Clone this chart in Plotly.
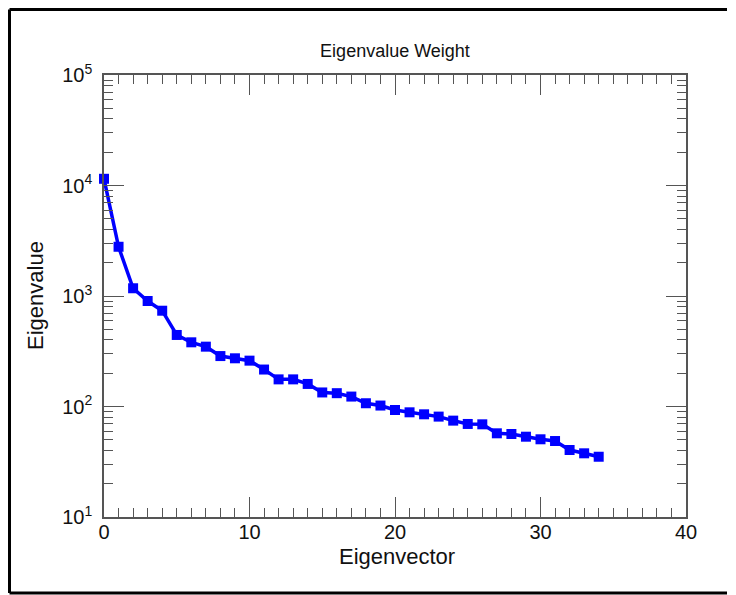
import plotly.graph_objects as go

eigenvector = list(range(35))
eigenvalue = [11500, 2790, 1175, 901, 736, 444, 381, 348, 286, 273,
              260, 216, 176, 176, 160, 134, 132, 123, 107, 102,
              93, 88.6, 85, 81, 74.5, 69.5, 69, 57.2, 56.4, 53.3,
              50.5, 48.7, 40.4, 37.7, 35.1]
y_tick_vals = [10, 100, 1000, 10000, 100000]
y_tick_text = ["10<sup>1</sup>", "10<sup>2</sup>", "10<sup>3</sup>", "10<sup>4</sup>", "10<sup>5</sup>"]
x_tick_vals = [0, 10, 20, 30, 40]

# page has an 8px body margin; figure coords = page coords - 8
OFF = 8
W, H = 719, 595 - OFF
L, R, T, B = 104 - OFF, 686 - OFF, 75 - OFF, 517 - OFF
pw, ph = R - L, B - T

def px(fx):
    return (fx - L) / pw

def py(fy):
    return (B - fy) / ph

fig = go.Figure()
fig.add_trace(go.Scatter(
    x=eigenvector, y=eigenvalue, mode="lines+markers",
    line=dict(color="#0000ff", width=3.5),
    marker=dict(symbol="square", size=10, color="#0000ff"),
    cliponaxis=False, showlegend=False))

font = "Liberation Sans, Arial, Helvetica, sans-serif"
axis_common = dict(
    showgrid=False, zeroline=False, showline=True, linecolor="#555555", linewidth=1.5,
    mirror="allticks", ticks="inside", ticklen=20, tickwidth=1.2, tickcolor="#555555",
    tickfont=dict(family=font, size=20, color="#111111"),
)

fig.update_layout(
    width=W, height=H,
    margin=dict(l=L, r=W - R, t=T, b=H - B, pad=0),
    paper_bgcolor="white", plot_bgcolor="white",
    title=dict(text="Eigenvalue Weight", x=(L + R) / 2 / W, xanchor="center",
               y=1 - (51 - OFF) / H, yanchor="middle",
               font=dict(family=font, size=18, color="#111111")),
    xaxis=dict(range=[0, 40], tickmode="array", tickvals=x_tick_vals,
               ticktext=[str(v) for v in x_tick_vals], ticklabelstandoff=-4,
               minor=dict(dtick=1, tick0=0, ticks="inside", ticklen=9, tickcolor="#555555", tickwidth=1.2),
               **axis_common),
    yaxis=dict(type="log", range=[1, 5], tickmode="array", tickvals=y_tick_vals,
               ticktext=y_tick_text, ticklabelstandoff=6,
               minor=dict(dtick="D1", ticks="inside", ticklen=9, tickcolor="#555555", tickwidth=1.2),
               **axis_common),
)

fig.add_annotation(text="Eigenvector", xref="paper", yref="paper",
                   x=px(397 - OFF), y=py(556 - OFF), xanchor="center", yanchor="middle",
                   showarrow=False, font=dict(family=font, size=22, color="#111111"))
fig.add_annotation(text="Eigenvalue", xref="paper", yref="paper",
                   x=px(35 - OFF), y=py(296 - OFF), xanchor="center", yanchor="middle",
                   textangle=-90, showarrow=False,
                   font=dict(family=font, size=22, color="#111111"))

# outer frame: left, top and bottom edges (right edge runs off the picture)
fx0, fx1 = px(1.5), px(W + 20)
fy_top, fy_bot = py(1.5), py(593 - OFF)
frame = dict(type="line", xref="paper", yref="paper", line=dict(color="black", width=3), layer="below")
fig.add_shape(x0=fx0, x1=fx0, y0=fy_bot, y1=fy_top, **frame)
fig.add_shape(x0=fx0, x1=fx1, y0=fy_top, y1=fy_top, **frame)
fig.add_shape(x0=fx0, x1=fx1, y0=fy_bot, y1=fy_bot, **frame)

fig.write_html("out.html")
